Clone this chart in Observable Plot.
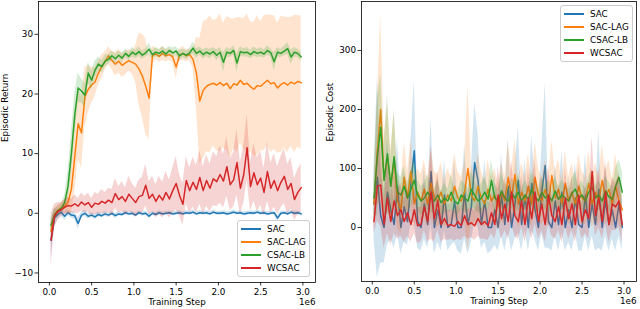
<!DOCTYPE html>
<html><head><meta charset="utf-8">
<script src="https://cdn.jsdelivr.net/npm/d3@7"></script>
<script src="https://cdn.jsdelivr.net/npm/@observablehq/plot@0.6"></script>
<style>
body{margin:0;background:#fff;font-family:"DejaVu Sans",sans-serif;}
#wrap{position:relative;width:640px;height:309px;overflow:hidden;background:#fff}
.panel{position:absolute;top:0}
.legend{position:absolute;background:rgba(255,255,255,0.8);border:1px solid #ccc;border-radius:3px;box-sizing:border-box}
.lrow{position:absolute;left:0;right:0;height:12px;font-size:8.8px;line-height:12px;color:#000}
.lline{position:absolute;left:3px;width:20px;height:2px;top:5px}
.ltext{position:absolute;left:29px;top:0;white-space:nowrap}
</style></head>
<body><div id="wrap"></div>
<script>
// training steps (in millions)
const steps = [0.02,0.06,0.10,0.14,0.18,0.22,0.26,0.30,0.34,0.38,0.42,0.46,0.50,0.54,0.58,0.62,0.66,0.70,0.74,0.78,0.82,0.86,0.90,0.94,0.98,1.02,1.06,1.10,1.14,1.18,1.22,1.26,1.30,1.34,1.38,1.42,1.46,1.50,1.54,1.58,1.62,1.66,1.70,1.74,1.78,1.82,1.86,1.90,1.94,1.98,2.02,2.06,2.10,2.14,2.18,2.22,2.26,2.30,2.34,2.38,2.42,2.46,2.50,2.54,2.58,2.62,2.66,2.70,2.74,2.78,2.82,2.86,2.90,2.94,2.98];
const seriesNames = ["SAC","SAC-LAG","CSAC-LB","WCSAC"];
const seriesColors = ["#1f77b4","#ff7f0e","#2ca02c","#d62728"];
const xTicks = [0,0.5,1.0,1.5,2.0,2.5,3.0];
const returnTicks = [-10,0,10,20,30];
const costTicks = [0,100,200,300];

// Episodic Return
const retSAC = [-4.5,-0.8,-0.2,0.2,-0.5, 0.1,-0.3,-0.4,-1.7,-0.3, 0.0,-0.5,-0.3,-0.6,-0.2, -0.4,-0.1,-0.3,0.0,-0.4, -0.1,-0.2,0.1,-0.1,0.0, -0.3,0.1,-0.1,0.0,-0.5, 0.0,-0.2,0.1,-0.1,0.0, 0.1,-0.1,0.0,0.1,-0.1, 0.1,0.0,0.2,-0.1,0.1, 0.0,0.1,-0.1,0.2,0.0, 0.0,0.1,-0.1,0.0,0.2, 0.0,0.1,-0.1,0.0,0.1, 0.0,0.2,0.0,0.1,-0.1, 0.0,0.1,-0.8,0.0,0.1, -0.1,0.2,0.0,0.1,-0.1];
const retSACBand = [3.0,1.5,0.8,0.6,0.7, 0.5,0.5,0.6,1.0,0.5, 0.5,0.5,0.4,0.5,0.4, 0.4,0.4,0.4,0.35,0.4, 0.35,0.35,0.35,0.3,0.35, 0.35,0.3,0.35,0.35,0.4, 0.35,0.3,0.35,0.3,0.35, 0.3,0.35,0.3,0.35,0.3, 0.35,0.3,0.35,0.3,0.35, 0.3,0.35,0.3,0.35,0.3, 0.35,0.3,0.35,0.3,0.35, 0.3,0.35,0.3,0.35,0.3, 0.35,0.3,0.35,0.3,0.35, 0.3,0.35,0.5,0.35,0.3, 0.35,0.3,0.35,0.3,0.35];
const retLAG = [-3.0,-0.2,0.5,0.9,1.2, 1.8,4.0,9.5,15.0,13.5, 19.5,20.8,21.5,22.0,23.5, 24.6,25.5,26.4,25.6,25.0, 25.5,24.8,25.2,25.6,25.3, 25.0,24.2,23.0,21.3,19.3, 26.5,26.7,26.3,26.8,26.4, 26.6,26.2,24.5,26.5,26.8, 26.4,26.6,25.8,23.5,18.8, 20.6,21.3,21.6,21.8,21.5, 21.9,21.4,21.8,20.9,21.7, 21.5,22.3,21.6,21.8,21.2, 20.8,21.4,21.3,21.8,22.3, 21.7,21.9,21.0,21.6,21.9, 21.5,22.0,21.7,22.1,21.9];
const retLAGBand = [1.5,1.0,0.8,0.8,1.0, 2.0,4.0,6.0,6.0,6.0, 5.0,4.0,3.0,2.5,2.0, 2.0,1.5,1.5,1.5,2.0, 2.0,2.0,2.0,1.8,2.0, 3.0,6.0,7.0,8.0,7.0, 1.5,1.0,1.0,1.2,1.0, 1.0,1.0,2.0,1.0,1.2, 1.0,1.0,1.5,6.0,10.5, 11.5,11.0,11.5,10.5,11.0, 11.5,10.5,11.2,11.8,10.8, 11.3,10.5,11.0,11.6,10.9, 11.2,11.7,10.8,11.3,11.0, 11.5,11.2,10.9,11.4,11.0, 11.3,10.8,11.5,11.0,11.2];
const retLB = [-2.0,-0.3,0.4,0.8,1.8, 4.5,10.0,16.5,21.0,20.5, 19.8,23.5,22.3,24.0,25.0, 24.6,25.5,25.8,26.4,25.9, 26.5,26.0,26.8,26.3,27.0, 26.6,27.1,26.5,26.9,27.5, 26.6,27.0,26.8,27.2,26.7, 27.3,26.9,27.2,26.4,26.8, 26.5,26.9,27.7,26.8,27.2, 26.6,27.0,26.7,27.1,26.5, 27.0,25.3,27.0,26.8,27.3, 25.2,27.1,26.9,27.0,26.6, 27.1,26.8,27.0,26.7,27.3, 26.9,25.4,27.0,26.8,27.2, 27.6,26.2,27.0,26.8,26.2];
const retLBBand = [1.2,1.0,0.8,0.8,1.2, 2.5,3.5,3.5,2.5,2.0, 2.0,1.8,1.5,1.5,1.2, 1.0,1.0,0.8,0.8,0.8, 0.7,0.8,0.7,0.7,0.8, 0.7,0.8,0.7,0.7,1.0, 0.7,0.8,0.7,0.7,0.8, 0.7,0.8,0.7,0.9,0.7, 0.8,0.7,1.0,0.8,0.7, 0.8,0.7,0.8,0.7,0.9, 0.8,1.6,0.8,0.7,0.8, 1.6,0.8,0.7,0.8,0.7, 0.8,0.7,0.8,0.7,0.8, 0.7,1.5,0.8,0.7,0.8, 1.0,1.2,0.8,0.7,0.8];
const retWC = [-4.5,-0.5,0.3,0.6,1.0, 1.3,1.2,1.6,1.2,1.9, 1.4,1.8,1.0,1.7,1.5, 2.0,1.7,2.2,1.8,3.3, 2.3,2.8,2.0,3.2,2.5, 1.8,2.8,3.0,4.7,2.5, 3.2,2.0,3.0,2.2,3.5, 2.4,3.8,5.0,3.0,1.5, 5.5,3.8,5.2,4.0,6.0, 3.8,5.5,4.2,5.8,5.3, 6.5,5.4,7.8,4.8,5.6, 8.5,4.2,6.5,11.0,4.5, 6.8,4.8,5.9,3.5,7.0, 4.2,5.5,3.8,5.2,6.2, 4.0,5.0,2.3,3.5,4.3];
const retWCBand = [4.5,2.0,1.5,1.2,1.2, 1.3,1.2,1.5,1.3,1.5, 1.4,1.6,1.5,1.8,1.7, 2.0,1.8,2.0,2.2,2.5, 2.2,2.5,2.3,3.0,2.5, 2.4,2.8,3.0,3.5,2.8, 3.0,2.8,3.2,3.0,3.5, 3.2,3.8,4.5,3.5,3.5, 4.0,3.8,4.2,4.0,4.5, 4.0,4.3,4.0,4.5,4.2, 4.8,4.5,5.0,4.3,4.6, 5.5,4.4,4.8,5.5,4.2, 4.8,4.5,4.6,4.0,5.0, 4.2,4.5,4.0,4.3,4.6, 4.2,4.3,3.5,3.8,4.0];

// Episodic Cost
const costSAC = [40,85,20,0,60, 30,5,70,0,35, 10,75,130,10,0, 40,5,95,0,30, 0,55,0,5,45, 0,0,60,5,35, 110,80,5,45,0, 0,30,0,55,5, 70,0,40,80,5, 55,0,75,30,0, 60,105,10,0,45, 5,60,0,30,0, 50,5,0,55,0, 40,5,65,0,45, 5,30,0,40,0];
const costSACBand = [60,170,80,60,90, 50,40,80,45,60, 40,70,120,45,40, 60,40,90,45,55, 40,60,40,35,70, 40,45,80,50,60, 100,80,40,70,45, 40,60,40,70,45, 80,40,60,90,45, 60,40,80,50,40, 70,140,45,40,60, 45,70,40,55,40, 60,45,40,70,40, 55,45,100,40,60, 45,50,40,55,40];
const costLAG = [40,130,200,80,120, 70,115,45,30,85, 50,95,40,60,45, 65,40,75,50,45, 60,40,55,45,70, 50,45,60,100,55, 45,70,50,40,65, 45,55,35,60,45, 85,50,90,40,60, 45,70,40,85,55, 45,65,40,88,50, 65,40,75,45,60, 40,70,50,45,75, 40,60,45,80,50, 65,40,70,45,30];
const costLAGBand = [40,90,160,70,90, 60,80,45,40,60, 45,55,45,40,45, 50,40,60,45,45, 50,40,45,40,55, 45,40,50,140,50, 45,55,45,40,50, 40,45,40,50,40, 60,45,60,40,50, 40,55,40,60,45, 40,50,40,60,45, 50,40,55,40,50, 40,55,45,40,55, 40,50,40,60,45, 50,40,55,40,35];
const costLB = [50,120,170,80,125, 70,120,60,55,70, 50,65,80,55,45, 50,60,50,45,55, 42,50,45,60,45, 40,55,50,45,65, 55,45,50,60,48, 80,50,45,62,50, 45,58,50,60,45, 55,48,65,52,45, 60,50,55,45,62, 48,55,50,45,58, 65,50,55,45,60, 68,50,55,45,62, 52,48,70,85,60];
const costLBBand = [30,100,90,60,100, 50,80,35,30,35, 25,30,35,25,25, 25,30,25,20,25, 20,25,20,30,20, 20,25,25,20,30, 25,20,25,25,20, 35,25,20,30,25, 20,25,25,30,20, 25,20,30,25,20, 25,20,25,20,25, 20,25,20,20,25, 30,20,25,20,25, 30,20,25,20,25, 25,20,30,30,35];
const costWC = [10,70,72,5,50, 10,45,20,30,10, 25,5,30,3,5, 35,10,60,15,45, 5,15,3,5,2, 10,3,20,5,8, 3,15,5,10,3, 25,5,55,15,40, 10,60,20,10,45, 5,50,15,60,10, 40,5,55,20,10, 35,5,50,15,40, 5,55,10,30,15, 95,20,50,10,60, 5,40,35,45,5];
const costWCBand = [20,60,70,40,60, 40,55,40,45,35, 40,30,40,30,30, 40,35,80,40,50, 30,35,25,25,25, 30,25,35,25,25, 25,30,25,30,25, 35,25,50,35,45, 30,55,35,30,45, 30,50,35,55,30, 45,30,50,35,30, 40,30,50,35,45, 30,50,30,40,35, 60,35,50,30,55, 30,45,40,45,30];

function rows(vals, band, name) {
  return steps.map((s, i) => ({x: s * 1e6, y: vals[i], lo: vals[i] - band[i], hi: vals[i] + band[i], series: name}));
}
const fmtMinus = d => d < 0 ? "\u2212" + Math.abs(d) : String(d);

function panel(seriesData, yDomain, yTicks, yLabel, opts) {
  const marks = [];
  seriesData.forEach((r, k) => {
    marks.push(Plot.areaY(r, {x: "x", y1: "lo", y2: "hi", fill: seriesColors[k], fillOpacity: 0.2, curve: "linear"}));
    marks.push(Plot.line(r, {x: "x", y: "y", stroke: seriesColors[k], strokeWidth: 1.5}));
  });
  marks.push(Plot.frame({stroke: "#000", strokeWidth: 0.8}));
  marks.push(Plot.axisX({ticks: xTicks.map(t => t * 1e6), tickFormat: d => (d / 1e6).toFixed(1), tickSize: 3.5, tickPadding: 2.5, fontSize: 8.8, label: null, strokeWidth: 0.8}));
  marks.push(Plot.axisY({ticks: yTicks, tickFormat: fmtMinus, tickSize: 3.5, tickPadding: 2, fontSize: 8.8, label: null, strokeWidth: 0.8}));
  marks.push(Plot.text(["Training Step"], {frameAnchor: "bottom", dy: 22, fontSize: 8.8, fill: "#000"}));
  marks.push(Plot.text(["1e6"], {frameAnchor: "bottom-right", dy: 22, textAnchor: "end", fontSize: 8.8, fill: "#000"}));
  marks.push(Plot.text([yLabel], {frameAnchor: "left", dx: opts.ylabelDx, rotate: -90, fontSize: 8.8, fill: "#000"}));
  return Plot.plot({
    width: 320, height: 309,
    marginLeft: opts.ml, marginRight: opts.mr, marginTop: 1, marginBottom: opts.mb,
    style: {fontFamily: "DejaVu Sans, sans-serif", fontSize: "8.8px", background: "transparent", overflow: "visible", color: "#000"},
    x: {domain: [-0.129e6, 3.149e6]},
    y: {domain: yDomain},
    marks
  });
}

const wrap = document.getElementById("wrap");
const left = panel([
  rows(retSAC, retSACBand, "SAC"),
  rows(retLAG, retLAGBand, "SAC-LAG"),
  rows(retLB, retLBBand, "CSAC-LB"),
  rows(retWC, retWCBand, "WCSAC")
], [-11.6, 35.5], returnTicks, "Episodic Return", {ml: 38, mr: 5, mb: 27, ylabelDx: -33});
left.classList.add("panel"); left.style.left = "0px";
wrap.appendChild(left);

const right = panel([
  rows(costSAC, costSACBand, "SAC"),
  rows(costLAG, costLAGBand, "SAC-LAG"),
  rows(costLB, costLBBand, "CSAC-LB"),
  rows(costWC, costWCBand, "WCSAC")
], [-91.5, 383], costTicks, "Episodic Cost", {ml: 41, mr: 4, mb: 28, ylabelDx: -31});
right.classList.add("panel"); right.style.left = "320px";
wrap.appendChild(right);

function legend(x, y, w, h) {
  const box = document.createElement("div");
  box.className = "legend";
  Object.assign(box.style, {left: x + "px", top: y + "px", width: w + "px", height: h + "px"});
  seriesNames.forEach((name, i) => {
    const row = document.createElement("div");
    row.className = "lrow";
    row.style.top = (2 + i * 13) + "px";
    const ln = document.createElement("div");
    ln.className = "lline"; ln.style.background = seriesColors[i];
    const tx = document.createElement("div");
    tx.className = "ltext"; tx.textContent = name;
    row.appendChild(ln); row.appendChild(tx);
    box.appendChild(row);
  });
  wrap.appendChild(box);
}
legend(237, 220, 73, 57);
legend(560, 5, 73, 57);
</script>
</body></html>
